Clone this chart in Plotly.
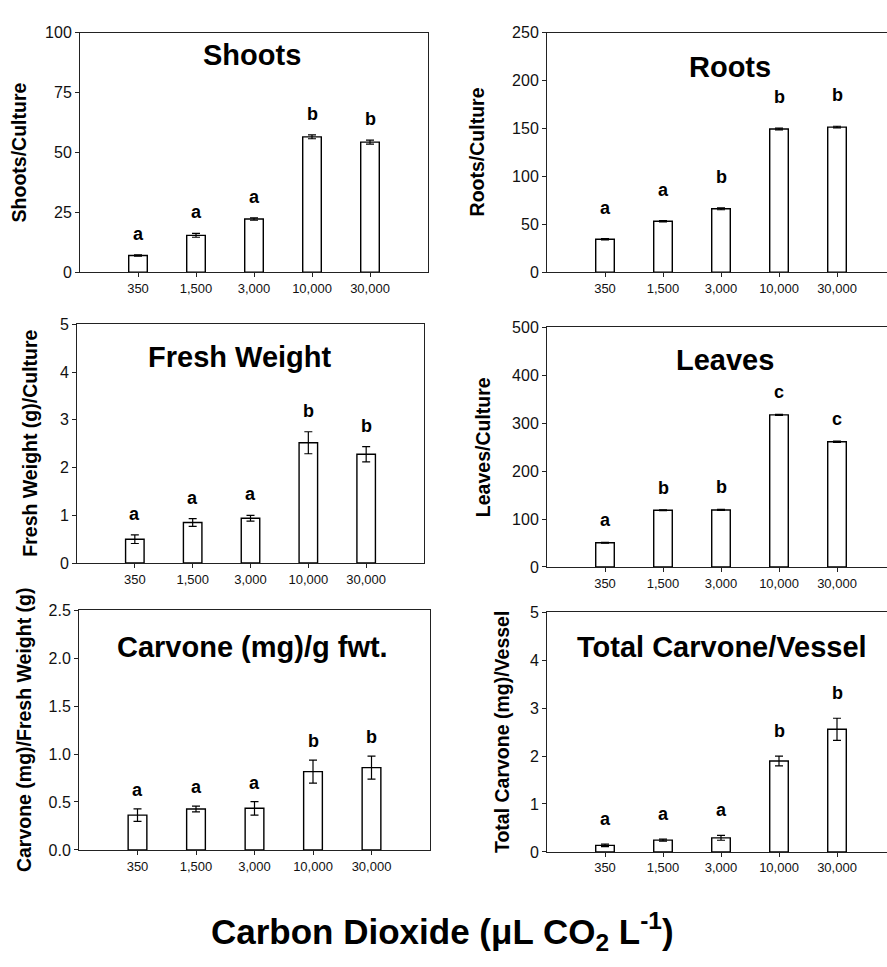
import plotly.graph_objects as go

# ---------------- data ----------------
co2_levels = ["350", "1,500", "3,000", "10,000", "30,000"]

shoots = [7.0, 15.4, 22.2, 56.5, 54.3]
shoots_err = [0.3, 0.8, 0.5, 0.8, 0.8]
shoots_letters = ["a", "a", "a", "b", "b"]

roots = [34.4, 53.2, 66.2, 149.4, 151.4]
roots_err = [0.6, 0.6, 1.0, 0.9, 0.9]
roots_letters = ["a", "a", "b", "b", "b"]

fresh = [0.50, 0.85, 0.94, 2.52, 2.28]
fresh_err = [0.09, 0.08, 0.06, 0.23, 0.16]
fresh_letters = ["a", "a", "a", "b", "b"]

leaves = [50.6, 118.3, 119.0, 317.4, 261.3]
leaves_err = [1.0, 1.0, 1.0, 1.0, 1.5]
leaves_letters = ["a", "b", "b", "c", "c"]

carvone = [0.363, 0.427, 0.434, 0.817, 0.858]
carvone_err = [0.065, 0.03, 0.07, 0.12, 0.12]
carvone_letters = ["a", "a", "a", "b", "b"]

total = [0.136, 0.245, 0.293, 1.896, 2.558]
total_err = [0.025, 0.02, 0.05, 0.10, 0.23]
total_letters = ["a", "a", "a", "b", "b"]

# ---------------- layout helpers ----------------
W, H = 887, 967
FONT = "Liberation Sans, Arial, Helvetica, sans-serif"


def xd(l, r):
    return [l / W, r / W]


def yd(top, bottom):
    return [1 - bottom / H, 1 - top / H]


panels = [
    dict(vals=shoots, err=shoots_err, let=shoots_letters, title="Shoots",
         ytitle="Shoots/Culture", x=(80, 428), y=(25, 269), yr=[0, 100],
         dt=25, fmt="", shift=21, right=False, tpos=(252, 48), ypos=19),
    dict(vals=roots, err=roots_err, let=roots_letters, title="Roots",
         ytitle="Roots/Culture", x=(547, 887), y=(25, 269), yr=[0, 250],
         dt=50, fmt="", shift=31, right=True, tpos=(730, 60), ypos=477),
    dict(vals=fresh, err=fresh_err, let=fresh_letters, title="Fresh Weight",
         ytitle="Fresh Weight (g)/Culture", x=(77, 424), y=(322, 565), yr=[0, 5],
         dt=1, fmt="", shift=21, right=False, tpos=(239, 355), ypos=30),
    dict(vals=leaves, err=leaves_err, let=leaves_letters, title="Leaves",
         ytitle="Leaves/Culture", x=(547, 887), y=(325, 569), yr=[0, 500],
         dt=100, fmt="", shift=22, right=True, tpos=(725, 358), ypos=483),
    dict(vals=carvone, err=carvone_err, let=carvone_letters, title="Carvone (mg)/g fwt.",
         ytitle="Carvone (mg)/Fresh Weight (g)", x=(79, 430), y=(613, 857), yr=[0, 2.5],
         dt=0.5, fmt=".1f", shift=19, right=False, tpos=(252, 650), ypos=24),
    dict(vals=total, err=total_err, let=total_letters, title="Total Carvone/Vessel",
         ytitle="Total Carvone (mg)/Vessel", x=(547, 887), y=(615, 859), yr=[0, 5],
         dt=1, fmt="", shift=25, right=True, tpos=(722, 650), ypos=502),
]

positions = [1, 2, 3, 4, 5]
UNIT = 58.0  # pixels per category step

fig = go.Figure()
layout = dict(
    width=W, height=H,
    margin=dict(l=0, r=0, t=0, b=0),
    paper_bgcolor="white", plot_bgcolor="white",
    showlegend=False,
    font=dict(family=FONT, color="black"),
    annotations=[],
)

for i, p in enumerate(panels, start=1):
    xa = "x" if i == 1 else f"x{i}"
    ya = "y" if i == 1 else f"y{i}"
    fig.add_trace(go.Bar(
        x=positions, y=p["vals"], xaxis=xa, yaxis=ya, width=0.32,
        marker=dict(color="white", line=dict(color="black", width=1.4)),
        error_y=dict(type="data", array=p["err"], visible=True,
                     color="black", thickness=1.2, width=4),
    ))
    l, r = p["x"]
    xmax = (r - l) / UNIT if p["right"] else 6
    xkey = "xaxis" if i == 1 else f"xaxis{i}"
    ykey = "yaxis" if i == 1 else f"yaxis{i}"
    layout[xkey] = dict(
        domain=xd(l, r), anchor=ya, range=[0, xmax],
        tickmode="array", tickvals=positions, ticktext=co2_levels,
        showline=True, linecolor="#222", linewidth=1, mirror=True,
        ticks="outside", ticklen=4, tickcolor="#222",
        tickfont=dict(size=13, family=FONT, color="#111"),
        showgrid=False, zeroline=False, fixedrange=True,
    )
    ty, by = p["y"]
    layout[ykey] = dict(
        domain=yd(ty, by), anchor=xa, range=p["yr"],
        tick0=0, dtick=p["dt"], tickformat=p["fmt"],
        showline=True, linecolor="#222", linewidth=1,
        mirror=(not p["right"]),
        ticks="outside", ticklen=4, tickcolor="#222",
        tickfont=dict(size=16, family=FONT, color="#111"),
        showgrid=False, zeroline=False, fixedrange=True,
    )
    # significance letters
    for xv, v, e, t in zip(positions, p["vals"], p["err"], p["let"]):
        layout["annotations"].append(dict(
            x=xv, y=v + e, xref=xa, yref=ya, text=f"<b>{t}</b>",
            showarrow=False, yanchor="middle", yshift=p["shift"],
            font=dict(size=18, family=FONT, color="black"),
        ))
    # panel title
    tx, tyy = p["tpos"]
    layout["annotations"].append(dict(
        x=tx / W, y=1 - tyy / H, xref="paper", yref="paper",
        text=f"<b>{p['title']}</b>", showarrow=False,
        xanchor="center", yanchor="middle",
        font=dict(size=29, family=FONT, color="black"),
    ))
    # y-axis title
    layout["annotations"].append(dict(
        x=p["ypos"] / W, y=1 - ((ty + by) / 2) / H, xref="paper", yref="paper",
        text=f"<b>{p['ytitle']}</b>", showarrow=False, textangle=-90,
        xanchor="center", yanchor="middle",
        font=dict(size=19.5, family=FONT, color="black"),
    ))

# common x-axis title
layout["annotations"].append(dict(
    x=442 / W, y=1 - 940 / H, xref="paper", yref="paper",
    text="<b>Carbon Dioxide (μL CO<sub>2</sub> L<sup>-1</sup>)</b>",
    showarrow=False, xanchor="center", yanchor="middle",
    font=dict(size=35, family=FONT, color="black"),
))

fig.update_layout(**layout)
fig.write_html("out.html")
